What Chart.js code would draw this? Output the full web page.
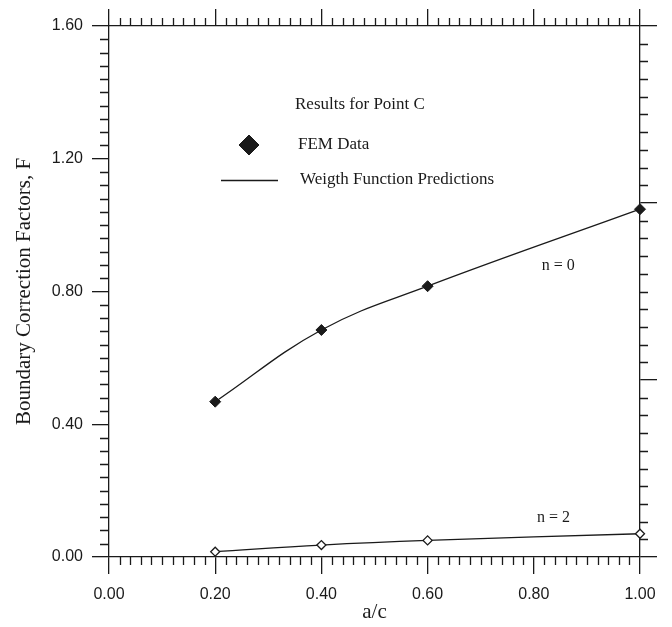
<!DOCTYPE html>
<html>
<head>
<meta charset="utf-8">
<script src="https://cdn.jsdelivr.net/npm/chart.js@4.4.1/dist/chart.umd.min.js"></script>
<style>
  html, body { margin: 0; padding: 0; background: #ffffff; }
  #wrap { width: 672px; height: 627px; position: relative; }
</style>
</head>
<body>
<div id="wrap"><canvas id="c" width="672" height="627"></canvas></div>
<script>
// ---- data ----
const aOverC = [0.2, 0.4, 0.6, 1.0];
const femN0 = [0.468, 0.684, 0.816, 1.048];
const femN2 = [0.016, 0.036, 0.050, 0.070];
const wfN0 = [0.468, 0.684, 0.816, 1.048];
const wfN2 = [0.016, 0.036, 0.050, 0.070];
const xTickLabels = ['0.00', '0.20', '0.40', '0.60', '0.80', '1.00'];
const yTickLabels = ['0.00', '0.40', '0.80', '1.20', '1.60'];
const curveLabels = ['n = 0', 'n = 2'];
const legendTitle = 'Results for Point C';
const legendFem = 'FEM Data';
const legendWf = 'Weigth Function Predictions';

// ---- styling / layout constants ----
const INK = '#1a1a1a';
const SERIF = '"Liberation Serif", "Times New Roman", serif';
const SANS = '"Liberation Sans", Arial, sans-serif';
const curveLabelPos = [{x: 0.846, y: 0.877}, {x: 0.837, y: 0.118}];

const toXY = (xs, ys) => xs.map((v, i) => ({x: v, y: ys[i]}));

const minorTicks = {
  id: 'minorTicks',
  afterDraw(chart) {
    const ctx = chart.ctx;
    const a = chart.chartArea;
    const {x, y, y2} = chart.scales;
    ctx.save();
    ctx.strokeStyle = INK;
    ctx.lineWidth = 1.3;
    ctx.beginPath();
    for (let i = 1; i < 50; i++) {
      if (i % 10 === 0) continue;
      const px = Math.round(x.getPixelForValue(i * 0.02)) + 0.5;
      ctx.moveTo(px, a.bottom); ctx.lineTo(px, a.bottom + 8);
      ctx.moveTo(px, a.top); ctx.lineTo(px, a.top - 8);
    }
    for (let i = 1; i < 40; i++) {
      if (i % 10 === 0) continue;
      const py = Math.round(y.getPixelForValue(i * 0.04)) + 0.5;
      ctx.moveTo(a.left, py); ctx.lineTo(a.left - 9, py);
    }
    for (let i = 1; i < 30; i++) {
      if (i % 10 === 0) continue;
      const py = Math.round(y2.getPixelForValue(i * 0.1)) + 0.5;
      ctx.moveTo(a.right, py); ctx.lineTo(a.right + 8, py);
    }
    ctx.stroke();
    ctx.restore();
  }
};

const legendAndLabels = {
  id: 'legendAndLabels',
  afterDraw(chart) {
    const ctx = chart.ctx;
    const {x, y} = chart.scales;
    ctx.save();
    ctx.fillStyle = INK;
    ctx.textBaseline = 'middle';
    ctx.textAlign = 'left';
    ctx.font = '17px ' + SERIF;
    ctx.fillText(legendTitle, 295, 105);
    ctx.fillText(legendFem, 298, 145);
    ctx.fillText(legendWf, 300, 180);
    // legend diamond
    Chart.helpers.drawPoint(ctx, {pointStyle: 'rectRot', radius: 10, rotation: 0, borderWidth: 1}, 249, 145);
    ctx.fillStyle = INK; ctx.strokeStyle = INK;
    ctx.fill(); ctx.stroke();
    // legend line
    ctx.beginPath();
    ctx.lineWidth = 1.3;
    ctx.moveTo(221, 180.5); ctx.lineTo(278, 180.5);
    ctx.stroke();
    // curve labels
    ctx.font = '16px ' + SERIF;
    ctx.textAlign = 'center';
    ctx.fillStyle = INK;
    curveLabels.forEach((t, i) => {
      ctx.fillText(t, x.getPixelForValue(curveLabelPos[i].x), y.getPixelForValue(curveLabelPos[i].y));
    });
    ctx.restore();
  }
};

const axisCommon = (pos) => ({
  type: 'linear',
  position: pos,
  grid: { drawOnChartArea: false, drawTicks: true, tickLength: 17, color: INK, lineWidth: 1.3 },
  border: { display: true, color: INK, width: 1.3 }
});

new Chart(document.getElementById('c'), {
  data: {
    datasets: [
      { type: 'scatter', label: legendFem + ' n=0', data: toXY(aOverC, femN0), clip: false,
        pointStyle: 'rectRot', pointRadius: 5.5, backgroundColor: INK, borderColor: INK, borderWidth: 1 },
      { type: 'scatter', label: legendFem + ' n=2', data: toXY(aOverC, femN2), clip: false,
        pointStyle: 'rectRot', pointRadius: 4.5, backgroundColor: '#ffffff', borderColor: INK, borderWidth: 1.3 },
      { type: 'line', label: legendWf + ' n=0', data: toXY(aOverC, wfN0), clip: false,
        borderColor: INK, borderWidth: 1.3, pointRadius: 0, fill: false, tension: 0.4 },
      { type: 'line', label: legendWf + ' n=2', data: toXY(aOverC, wfN2), clip: false,
        borderColor: INK, borderWidth: 1.3, pointRadius: 0, fill: false, tension: 0.4 }
    ]
  },
  options: {
    responsive: false,
    animation: false,
    layout: { padding: 0 },
    plugins: { legend: { display: false }, tooltip: { enabled: false } },
    scales: {
      x: Object.assign(axisCommon('bottom'), {
        min: 0, max: 1,
        ticks: { stepSize: 0.2, padding: 11, color: INK, font: { family: SANS, size: 16 },
                 callback: (v) => xTickLabels[Math.round(v / 0.2)] },
        title: { display: true, text: 'a/c', color: INK, font: { family: SERIF, size: 21, lineHeight: 1 }, padding: { top: 0, bottom: 4 } },
        afterFit: (s) => { s.height = 70; }
      }),
      x2: Object.assign(axisCommon('top'), {
        min: 0, max: 1,
        ticks: { stepSize: 0.2, display: false },
        afterFit: (s) => { s.height = 26; }
      }),
      y: Object.assign(axisCommon('left'), {
        min: 0, max: 1.6,
        ticks: { stepSize: 0.4, padding: 9, color: INK, font: { family: SANS, size: 16 },
                 callback: (v) => yTickLabels[Math.round(v / 0.4)] },
        title: { display: true, text: 'Boundary Correction Factors, F', color: INK, font: { family: SERIF, size: 21, lineHeight: 1 }, padding: { top: 14, bottom: 0 } },
        afterFit: (s) => { s.width = 109; }
      }),
      y2: Object.assign(axisCommon('right'), {
        min: 0, max: 3,
        ticks: { stepSize: 1, display: false },
        afterFit: (s) => { s.width = 32; }
      })
    }
  },
  plugins: [minorTicks, legendAndLabels]
});
</script>
</body>
</html>
